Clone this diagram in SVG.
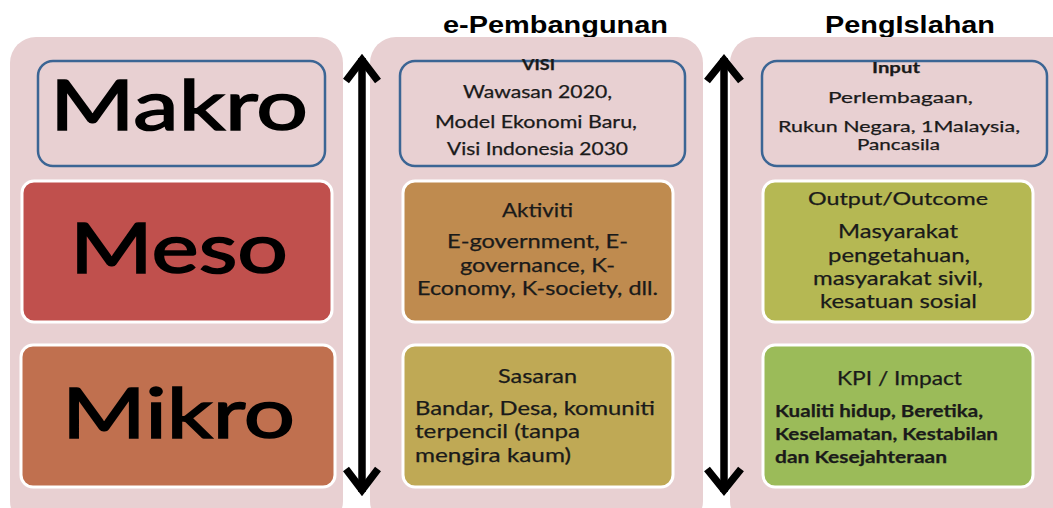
<svg xmlns="http://www.w3.org/2000/svg" width="1053" height="508" viewBox="0 0 1053 508">
<defs>
<style>
.panel{fill:#E8D0D2;}
.top{fill:#E8D0D2;stroke:#3B6594;stroke-width:2.5;}
.box{stroke:#FFFFFF;stroke-width:3;}
.big{font-family:"Lato","Liberation Sans",sans-serif;font-size:70px;fill:#000;stroke:#000;stroke-width:1.6;}
.title{font-family:"Liberation Sans",Arial,sans-serif;font-weight:bold;font-size:24px;fill:#000;}
.t{font-family:"Lato","Liberation Sans",sans-serif;fill:#1a1a1a;stroke:#1a1a1a;stroke-width:0.25;}
.c{text-anchor:middle;}
.arr{stroke:#000;stroke-width:7.5;fill:none;stroke-linecap:butt;stroke-linejoin:miter;}
</style>
</defs>
<rect width="1053" height="508" fill="#FFFFFF"/>
<text class="title" x="443" y="33" textLength="225" lengthAdjust="spacingAndGlyphs">e-Pembangunan</text>
<text class="title" x="825" y="33" textLength="170" lengthAdjust="spacingAndGlyphs">PengIslahan</text>

<g id="panel1">
<rect class="panel" x="10" y="37" width="333" height="490" rx="26"/>
</g>
<g id="panel2">
<rect class="panel" x="370" y="37" width="333" height="490" rx="26"/>
</g>
<g id="panel3">
<rect class="panel" x="730" y="37" width="350" height="490" rx="26"/>
</g>

<g id="makro">
<rect class="top" x="38" y="61" width="287" height="105" rx="15"/>
<text class="big" x="50" y="130" textLength="258" lengthAdjust="spacingAndGlyphs">Makro</text>
</g>
<g id="meso">
<rect class="box" x="22" y="181" width="310" height="141" rx="12" fill="#C0504D"/>
<text class="big" x="70" y="273" textLength="218" lengthAdjust="spacingAndGlyphs">Meso</text>
</g>
<g id="mikro">
<rect class="box" x="21" y="345" width="314" height="142" rx="12" fill="#C0704F"/>
<text class="big" x="62" y="438" textLength="233" lengthAdjust="spacingAndGlyphs">Mikro</text>
</g>

<g id="visi">
<rect class="top" x="400" y="61" width="285" height="105" rx="15"/>
<text class="t" x="522" y="70" font-size="16" font-weight="bold" textLength="33" lengthAdjust="spacingAndGlyphs">VISI</text>
<text class="t" x="463" y="98" font-size="17" textLength="149" lengthAdjust="spacingAndGlyphs">Wawasan 2020,</text>
<text class="t" x="435" y="128" font-size="17" textLength="202" lengthAdjust="spacingAndGlyphs">Model Ekonomi Baru,</text>
<text class="t" x="447" y="155" font-size="17" textLength="181" lengthAdjust="spacingAndGlyphs">Visi Indonesia 2030</text>
</g>
<g id="aktiviti">
<rect class="box" x="403" y="181" width="270" height="141" rx="12" fill="#BF8B4F"/>
<text class="t" x="502" y="217" font-size="19" textLength="71" lengthAdjust="spacingAndGlyphs">Aktiviti</text>
<text class="t" x="447" y="248" font-size="19" textLength="181" lengthAdjust="spacingAndGlyphs">E-government, E-</text>
<text class="t" x="460" y="272" font-size="19" textLength="155" lengthAdjust="spacingAndGlyphs">governance, K-</text>
<text class="t" x="417" y="295" font-size="19" textLength="241" lengthAdjust="spacingAndGlyphs">Economy, K-society, dll.</text>
</g>
<g id="sasaran">
<rect class="box" x="403" y="345" width="270" height="142" rx="12" fill="#BFA955"/>
<text class="t" x="498" y="383" font-size="19" textLength="79" lengthAdjust="spacingAndGlyphs">Sasaran</text>
<text class="t" x="415" y="415" font-size="19" textLength="240" lengthAdjust="spacingAndGlyphs">Bandar, Desa, komuniti</text>
<text class="t" x="415" y="438" font-size="19" textLength="165" lengthAdjust="spacingAndGlyphs">terpencil (tanpa</text>
<text class="t" x="415" y="462" font-size="19" textLength="156" lengthAdjust="spacingAndGlyphs">mengira kaum)</text>
</g>

<g id="input">
<rect class="top" x="762" y="61" width="285" height="105" rx="15"/>
<text class="t" x="872" y="73" font-size="16" font-weight="bold" textLength="48" lengthAdjust="spacingAndGlyphs">Input</text>
<text class="t" x="828" y="103" font-size="16" textLength="145" lengthAdjust="spacingAndGlyphs">Perlembagaan,</text>
<text class="t" x="778" y="132" font-size="16" textLength="242" lengthAdjust="spacingAndGlyphs">Rukun Negara, 1Malaysia,</text>
<text class="t" x="857" y="150" font-size="16" textLength="83" lengthAdjust="spacingAndGlyphs">Pancasila</text>
</g>
<g id="output">
<rect class="box" x="763" y="181" width="270" height="141" rx="12" fill="#B5B853"/>
<text class="t" x="808" y="205" font-size="18" textLength="180" lengthAdjust="spacingAndGlyphs">Output/Outcome</text>
<text class="t" x="838" y="238" font-size="20" textLength="120" lengthAdjust="spacingAndGlyphs">Masyarakat</text>
<text class="t" x="828" y="262" font-size="20" textLength="142" lengthAdjust="spacingAndGlyphs">pengetahuan,</text>
<text class="t" x="813" y="285" font-size="20" textLength="170" lengthAdjust="spacingAndGlyphs">masyarakat sivil,</text>
<text class="t" x="820" y="308" font-size="20" textLength="157" lengthAdjust="spacingAndGlyphs">kesatuan  sosial</text>
</g>
<g id="kpi">
<rect class="box" x="763" y="345" width="270" height="142" rx="12" fill="#9BBB59"/>
<text class="t" x="837" y="385" font-size="20" textLength="125" lengthAdjust="spacingAndGlyphs">KPI / Impact</text>
<text class="t" x="775" y="417" font-size="17" font-weight="bold" textLength="208" lengthAdjust="spacingAndGlyphs">Kualiti hidup, Beretika,</text>
<text class="t" x="775" y="440" font-size="17" font-weight="bold" textLength="223" lengthAdjust="spacingAndGlyphs">Keselamatan, Kestabilan</text>
<text class="t" x="775" y="463" font-size="17" font-weight="bold" textLength="172" lengthAdjust="spacingAndGlyphs">dan Kesejahteraan</text>
</g>

<g id="connectors">
<line class="arr" x1="362" y1="58" x2="362" y2="492"/>
<polyline class="arr" points="346,81 362,60 378,81"/>
<polyline class="arr" points="346,469 362,490 378,469"/>
<line class="arr" x1="724" y1="58" x2="724" y2="492"/>
<polyline class="arr" points="707,81 724,60 741,81"/>
<polyline class="arr" points="707,469 724,490 741,469"/>
</g>
</svg>
